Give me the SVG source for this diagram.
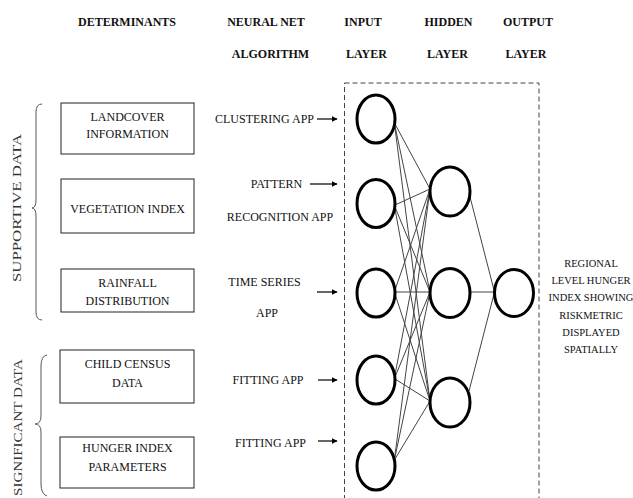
<svg xmlns="http://www.w3.org/2000/svg" width="633" height="498" viewBox="0 0 633 498">
<defs>
<style>
text{font-family:"Liberation Serif","Times New Roman",serif;fill:#111}
.h{font-weight:bold;font-size:12px;text-anchor:middle}
.b{font-size:12px;text-anchor:middle}
.a{font-size:12px}
.r{font-size:10.5px;text-anchor:middle}
.side{font-size:13.5px;fill:#333}
.box{fill:#fff;stroke:#222;stroke-width:1}
.node{fill:#fff;stroke:#000;stroke-width:3}
.brace{fill:none;stroke:#555;stroke-width:1}
.c{stroke:#444;stroke-width:1;fill:none}
.arr{stroke:#000;stroke-width:1.2;marker-end:url(#ah)}
</style>
<marker id="ah" viewBox="0 0 10 10" refX="9" refY="5" markerWidth="6" markerHeight="6" markerUnits="userSpaceOnUse" orient="auto">
<path d="M0,0 L10,5 L0,10 z" fill="#000"/>
</marker>
</defs>
<rect width="633" height="498" fill="#fff"/>

<g id="headers">
<text class="h" x="127" y="25.5">DETERMINANTS</text>
<text class="h" x="266" y="25.5">NEURAL NET</text>
<text class="h" x="270.5" y="58">ALGORITHM</text>
<text class="h" x="363" y="25.5">INPUT</text>
<text class="h" x="366.5" y="58">LAYER</text>
<text class="h" x="448.5" y="25.5">HIDDEN</text>
<text class="h" x="447.5" y="58">LAYER</text>
<text class="h" x="528" y="25.5">OUTPUT</text>
<text class="h" x="526" y="58">LAYER</text>
</g>

<g id="supportive-group">
<path class="brace" d="M42,104 Q36,104 36,112 L36,200 Q36,208 32,208 Q36,208 36,216 L36,312 Q36,320 42,320"/>
<text class="side" text-anchor="middle" textLength="148" lengthAdjust="spacingAndGlyphs" transform="translate(21,208) rotate(-90)">SUPPORTIVE DATA</text>
</g>
<g id="significant-group">
<path class="brace" d="M47,355 Q41,356 41,366 L41,416 Q41,424 35,424 Q41,424 41,432 L41,484 Q41,494 47,496"/>
<text class="side" text-anchor="end" textLength="137" lengthAdjust="spacingAndGlyphs" transform="translate(22,359) rotate(-90)">SIGNIFICANT DATA</text>
</g>

<g id="landcover">
<rect class="box" x="61" y="103" width="133" height="51"/>
<text class="b" x="127.5" y="121">LANDCOVER</text>
<text class="b" x="127.5" y="138">INFORMATION</text>
</g>
<g id="vegetation">
<rect class="box" x="61" y="179" width="133" height="54"/>
<text class="b" x="127.5" y="213">VEGETATION INDEX</text>
</g>
<g id="rainfall">
<rect class="box" x="61" y="269" width="133" height="43"/>
<text class="b" x="127.5" y="287">RAINFALL</text>
<text class="b" x="127.5" y="305">DISTRIBUTION</text>
</g>
<g id="childcensus">
<rect class="box" x="60" y="350" width="134" height="53"/>
<text class="b" x="127.5" y="368">CHILD CENSUS</text>
<text class="b" x="127.5" y="387">DATA</text>
</g>
<g id="hungerindex">
<rect class="box" x="60" y="437" width="134" height="51"/>
<text class="b" x="127.5" y="452">HUNGER INDEX</text>
<text class="b" x="127.5" y="471">PARAMETERS</text>
</g>

<g id="algorithms">
<text class="a" x="215" y="123">CLUSTERING APP</text>
<text class="b" x="276.5" y="188">PATTERN</text>
<text class="b" x="280" y="221">RECOGNITION APP</text>
<text class="b" x="264.5" y="286">TIME SERIES</text>
<text class="b" x="267" y="317">APP</text>
<text class="b" x="268" y="384">FITTING APP</text>
<text class="b" x="270.5" y="447">FITTING APP</text>
</g>

<g id="network-frame">
<rect x="344.5" y="83" width="194.5" height="430" fill="none" stroke="#444" stroke-width="1" stroke-dasharray="5,3"/>
</g>

<g id="connectors">
<line class="arr" x1="317" y1="119" x2="337" y2="119"/>
<line class="arr" x1="310" y1="184" x2="337" y2="184"/>
<line class="arr" x1="317" y1="292" x2="337" y2="292"/>
<line class="arr" x1="318" y1="380" x2="337" y2="380"/>
<line class="arr" x1="318" y1="441" x2="337" y2="441"/>

<line class="c" x1="395" y1="124" x2="430" y2="189"/>
<line class="c" x1="395" y1="126" x2="430" y2="292"/>
<line class="c" x1="395" y1="128" x2="430" y2="401"/>
<line class="c" x1="395" y1="205" x2="430" y2="189"/>
<line class="c" x1="395" y1="207" x2="430" y2="292"/>
<line class="c" x1="395" y1="209" x2="430" y2="401"/>
<line class="c" x1="395" y1="290" x2="430" y2="189"/>
<line class="c" x1="395" y1="292" x2="430" y2="292" stroke-width="1.4"/>
<line class="c" x1="395" y1="294" x2="430" y2="401"/>
<line class="c" x1="395" y1="375" x2="430" y2="189"/>
<line class="c" x1="395" y1="377" x2="430" y2="292"/>
<line class="c" x1="395" y1="379" x2="430" y2="401"/>
<line class="c" x1="395" y1="455" x2="430" y2="189"/>
<line class="c" x1="395" y1="457" x2="430" y2="292"/>
<line class="c" x1="395" y1="459" x2="430" y2="401"/>

<line class="c" x1="469" y1="193" x2="494.5" y2="292"/>
<line class="c" x1="470" y1="292" x2="494.5" y2="292" stroke-width="1.4"/>
<line class="c" x1="469" y1="391" x2="494.5" y2="292"/>
</g>

<g id="input-layer">
<ellipse class="node" cx="376" cy="119" rx="19" ry="24"/>
<ellipse class="node" cx="376" cy="203.5" rx="19" ry="24"/>
<ellipse class="node" cx="376" cy="293" rx="19" ry="24"/>
<ellipse class="node" cx="376" cy="380" rx="19" ry="24"/>
<ellipse class="node" cx="376" cy="466" rx="19" ry="24"/>
</g>
<g id="hidden-layer">
<ellipse class="node" cx="450" cy="191.5" rx="20" ry="24.5"/>
<ellipse class="node" cx="450" cy="293" rx="20" ry="24.5"/>
<ellipse class="node" cx="450" cy="402.5" rx="20" ry="24.5"/>
</g>
<g id="output-layer">
<ellipse class="node" cx="514" cy="293" rx="19.5" ry="23.5"/>
</g>

<g id="result">
<text class="r" x="591" y="267">REGIONAL</text>
<text class="r" x="591" y="284">LEVEL HUNGER</text>
<text class="r" x="591" y="301">INDEX SHOWING</text>
<text class="r" x="591" y="319">RISKMETRIC</text>
<text class="r" x="591" y="336">DISPLAYED</text>
<text class="r" x="591" y="353">SPATIALLY</text>
</g>
</svg>
